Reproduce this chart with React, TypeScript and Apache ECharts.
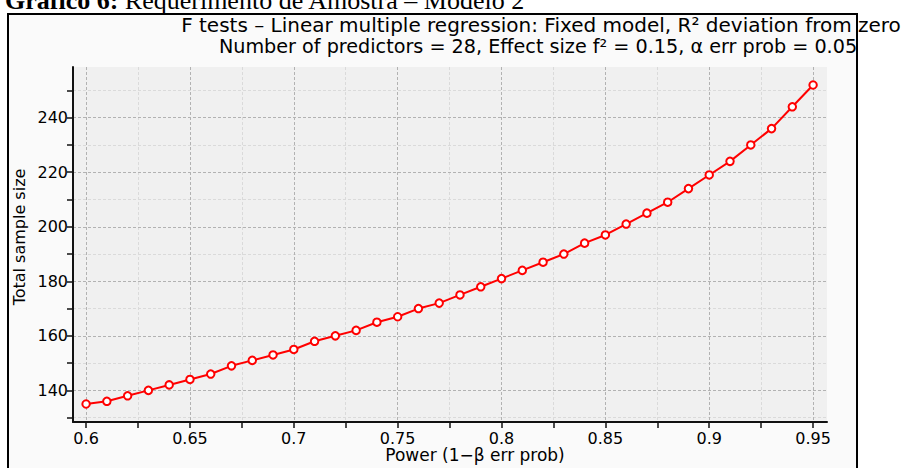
import React, { useEffect, useRef } from "react";
import * as echarts from "echarts";

const power = [0.6, 0.61, 0.62, 0.63, 0.64, 0.65, 0.66, 0.67, 0.68, 0.69, 0.7, 0.71, 0.72, 0.73, 0.74, 0.75, 0.76, 0.77, 0.78, 0.79, 0.8, 0.81, 0.82, 0.83, 0.84, 0.85, 0.86, 0.87, 0.88, 0.89, 0.9, 0.91, 0.92, 0.93, 0.94, 0.95];
const sampleSize = [135, 136, 138, 140, 142, 144, 146, 149, 151, 153, 155, 158, 160, 162, 165, 167, 170, 172, 175, 178, 181, 184, 187, 190, 194, 197, 201, 205, 209, 214, 219, 224, 230, 236, 244, 252];

const xMajorTicks = [0.6, 0.65, 0.7, 0.75, 0.8, 0.85, 0.9, 0.95];
const xMinorTicks = [0.625, 0.675, 0.725, 0.775, 0.825, 0.875, 0.925];
const yMajorTicks = [140, 160, 180, 200, 220, 240];
const yMinorTicks = [130, 150, 170, 190, 210, 230, 250];

const xRange = [0.5937, 0.9567];
const yRange = [128.4, 258.6];

const captionBold = "Gráfico 6:";
const captionRest = " Requerimento de Amostra – Modelo 2";
const titleLine1 = "F tests – Linear multiple regression: Fixed model, R² deviation from zero";
const titleLine2 = "Number of predictors = 28, Effect size f² = 0.15, α err prob = 0.05";
const xName = "Power (1−β err prob)";
const yName = "Total sample size";

const FONT = "DejaVu Sans";

export default function App() {
  const ref = useRef<HTMLDivElement>(null);
  useEffect(() => {
    const chart = echarts.init(ref.current!, null, { renderer: "svg" });
    const fmt = (v: number) => String(Math.round(v * 1000) / 1000);
    const axisBase = {
      type: "value",
      axisLine: { onZero: false },
    };
    chart.setOption({
      animation: false,
      backgroundColor: "#ffffff",
      textStyle: { fontFamily: FONT },
      grid: {
        left: 73,
        right: 84,
        top: 67,
        bottom: 46,
        show: true,
        backgroundColor: "#f0f0f0",
        borderWidth: 0,
        containLabel: false,
        outerBoundsMode: "none",
      },
      xAxis: [
        {
          ...axisBase,
          min: xRange[0],
          max: xRange[1],
          position: "bottom",
          z: 3,
          axisLine: { show: true, onZero: false, lineStyle: { color: "#111", width: 2 } },
          axisTick: { show: true, inside: false, length: 6, customValues: xMajorTicks, lineStyle: { color: "#111", width: 1.5 } },
          axisLabel: { show: true, customValues: xMajorTicks, margin: 8, fontSize: 16, color: "#000", fontFamily: FONT, formatter: fmt },
          splitLine: { show: true, lineStyle: { color: "#b2b2b2", type: [3, 2], width: 1 } },
        },
        {
          ...axisBase,
          min: xRange[0],
          max: xRange[1],
          position: "bottom",
          z: 2,
          axisLine: { show: false, onZero: false },
          axisTick: { show: true, inside: false, length: 6, customValues: xMinorTicks, lineStyle: { color: "#111", width: 1.5 } },
          axisLabel: { show: false },
          splitLine: { show: true, lineStyle: { color: "#dadada", type: [3, 2], width: 1 } },
        },
      ],
      yAxis: [
        {
          ...axisBase,
          min: yRange[0],
          max: yRange[1],
          position: "left",
          z: 3,
          axisLine: { show: true, onZero: false, lineStyle: { color: "#111", width: 2 } },
          axisTick: { show: true, inside: false, length: 6, customValues: yMajorTicks, lineStyle: { color: "#111", width: 1.5 } },
          axisLabel: { show: true, customValues: yMajorTicks, margin: 5, fontSize: 16, color: "#000", fontFamily: FONT, formatter: fmt },
          splitLine: { show: true, lineStyle: { color: "#b2b2b2", type: [3, 2], width: 1 } },
        },
        {
          ...axisBase,
          min: yRange[0],
          max: yRange[1],
          position: "left",
          offset: 0,
          z: 2,
          axisLine: { show: false, onZero: false },
          axisTick: { show: true, inside: false, length: 6, customValues: yMinorTicks, lineStyle: { color: "#111", width: 1.5 } },
          axisLabel: { show: false },
          splitLine: { show: true, lineStyle: { color: "#dadada", type: [3, 2], width: 1 } },
        },
      ],
      series: [
        {
          type: "line",
          xAxisIndex: 0,
          yAxisIndex: 0,
          z: 5,
          data: power.map((p, i) => [p, sampleSize[i]]),
          symbol: "circle",
          symbolSize: 7.5,
          showAllSymbol: true,
          itemStyle: { color: "#ffffff", borderColor: "#ff0000", borderWidth: 2 },
          lineStyle: { color: "#ff0000", width: 2 },
          emphasis: { disabled: true },
        },
      ],
      graphic: [
        {
          type: "rect",
          z: -10,
          shape: { x: 8, y: 14, width: 849, height: 470 },
          style: { fill: "#fafafa", stroke: "#000000", lineWidth: 2 },
        },
        {
          type: "text",
          x: 5,
          y: 0,
          style: {
            text: "{b|" + captionBold + "}" + captionRest,
            fontFamily: "Liberation Serif",
            fontSize: 26,
            fill: "#000",
            verticalAlign: "middle",
            align: "left",
            rich: { b: { fontWeight: "bold", fontFamily: "Liberation Serif", fontSize: 26 } },
          },
        },
        {
          type: "text",
          x: 541,
          y: 25,
          style: { text: titleLine1, fontFamily: FONT, fontSize: 20, fill: "#000", align: "center", verticalAlign: "middle" },
        },
        {
          type: "text",
          x: 538,
          y: 46,
          style: { text: titleLine2, fontFamily: FONT, fontSize: 19.2, fill: "#000", align: "center", verticalAlign: "middle" },
        },
        {
          type: "text",
          x: 19,
          y: 237,
          rotation: Math.PI / 2,
          style: { text: yName, fontFamily: FONT, fontSize: 16, fill: "#000", align: "center", verticalAlign: "middle" },
        },
        {
          type: "text",
          x: 475,
          y: 455,
          style: { text: xName, fontFamily: FONT, fontSize: 17, fill: "#000", align: "center", verticalAlign: "middle" },
        },
      ],
    });
    return () => chart.dispose();
  }, []);
  return <div ref={ref} style={{ position: "absolute", left: 0, top: 0, width: 911, height: 468 }} />;
}
